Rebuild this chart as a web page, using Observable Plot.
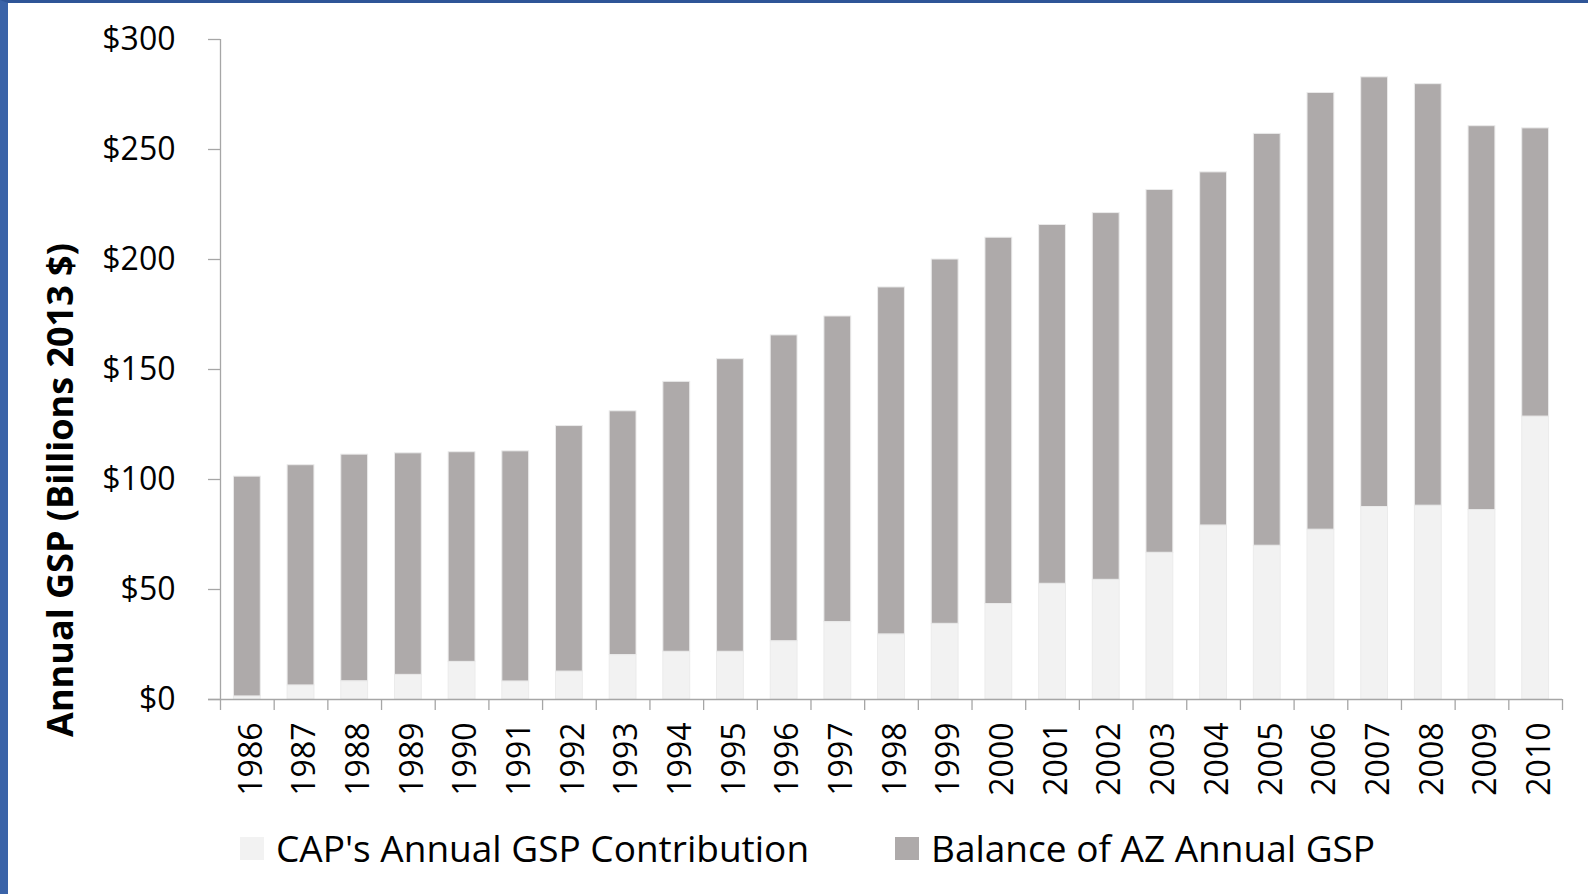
<!DOCTYPE html>
<html>
<head>
<meta charset="utf-8">
<script src="https://cdn.jsdelivr.net/npm/d3@7"></script>
<script src="https://cdn.jsdelivr.net/npm/@observablehq/plot@0.6"></script>
<style>
html, body { margin: 0; padding: 0; background: #fff; }
#frame {
  position: relative; width: 1588px; height: 894px; box-sizing: border-box;
  border-top: 3px solid #2f5597; border-left: 8px solid #3a63a8;
  overflow: hidden; font-family: "Open Sans", sans-serif; color: #000; background: #fff;
}
#chart { position: absolute; left: 0; top: 0; }
#ytitle {
  position: absolute; left: 52px; top: 487px;
  transform: translate(-50%, -50%) rotate(-90deg);
  font-weight: 700; font-size: 36px; white-space: nowrap; line-height: 1;
}
.legend-item {
  position: absolute; top: 824px; height: 42px; display: flex; align-items: center;
  font-size: 37px; white-space: nowrap; line-height: 42px;
}
.swatch { width: 24px; height: 23px; margin-right: 12px; flex: none; }
</style>
</head>
<body>
<div id="frame">
  <div id="chart"></div>
  <div id="ytitle"></div>
  <div id="legend"></div>
</div>
<script>
// ---- data ----
const years = ["1986","1987","1988","1989","1990","1991","1992","1993","1994","1995","1996","1997","1998",
               "1999","2000","2001","2002","2003","2004","2005","2006","2007","2008","2009","2010"];
const capContribution = [1.4, 6.4, 8.3, 11.2, 17.1, 8.2, 12.7, 20.2, 21.7, 21.7, 26.5, 35.2, 29.6,
                         34.4, 43.4, 52.6, 54.4, 66.7, 79.1, 69.9, 77.2, 87.5, 88.1, 86.1, 128.6];
const balanceOfAZ = [99.9, 100.1, 103.0, 100.7, 95.3, 104.6, 111.6, 110.8, 122.7, 133.0, 139.0, 138.9, 157.7,
                     165.6, 166.5, 163.1, 166.7, 164.9, 160.5, 187.2, 198.5, 195.3, 191.6, 174.5, 131.0];
const seriesNames = ["CAP's Annual GSP Contribution", "Balance of AZ Annual GSP"];
const seriesColors = ["#f2f2f2", "#aeaaaa"];
const yTicks = [0, 50, 100, 150, 200, 250, 300];
const yTitle = "Annual GSP (Billions 2013 $)";

// ---- table for the library ----
const rows = [];
years.forEach((yr, i) => {
  rows.push({year: yr, series: seriesNames[0], value: capContribution[i]});
  rows.push({year: yr, series: seriesNames[1], value: balanceOfAZ[i]});
});

const W = 1580, H = 805, mL = 212, mR = 26, mT = 36, mB = 109;
const frameH = H - mT - mB;
const step = (W - mL - mR) / years.length;
const axisGray = "#a6a6a6";

const chart = Plot.plot({
  width: W, height: H,
  marginLeft: mL, marginRight: mR, marginTop: mT, marginBottom: mB,
  style: {fontFamily: '"Open Sans", sans-serif', color: "#000", background: "transparent", overflow: "visible"},
  x: {domain: years, padding: 0, round: false, axis: null},
  y: {domain: [0, 300], axis: null},
  color: {domain: seriesNames, range: seriesColors},
  marks: [
    Plot.barY(rows, {x: "year", y: "value", fill: "series", order: seriesNames,
                     insetLeft: step / 4, insetRight: step / 4, stroke: "#ebebeb", strokeWidth: 1}),
    // y axis line (plus first category boundary tick)
    Plot.ruleX([years[0]], {dx: -step / 2, stroke: axisGray, strokeWidth: 1.3, insetBottom: -11}),
    // category boundary ticks
    Plot.ruleX(years.slice(1), {dx: -step / 2, stroke: axisGray, strokeWidth: 1.3, insetTop: frameH, insetBottom: -11}),
    Plot.ruleX([years[years.length - 1]], {dx: step / 2, stroke: axisGray, strokeWidth: 1.3, insetTop: frameH, insetBottom: -11}),
    // x axis baseline
    Plot.ruleY([0], {stroke: axisGray, strokeWidth: 1.3, insetLeft: -12}),
    Plot.axisY({ticks: yTicks, tickFormat: d => "$" + d, tickSize: 12, tickPadding: 33, fontSize: 32,
                stroke: axisGray, strokeWidth: 1.3, fill: "#000", label: null}),
    Plot.axisX({tickRotate: -90, tickSize: 0, tickPadding: 23, dx: 4, fontSize: 32, fill: "#000", label: null})
  ]
});
document.getElementById("chart").appendChild(chart);
document.getElementById("ytitle").textContent = yTitle;

const legendLefts = [232, 887];
const legend = document.getElementById("legend");
seriesNames.forEach((name, i) => {
  const item = document.createElement("div");
  item.className = "legend-item";
  item.style.left = legendLefts[i] + "px";
  const sw = document.createElement("span");
  sw.className = "swatch";
  sw.style.background = seriesColors[i];
  const tx = document.createElement("span");
  tx.textContent = name;
  item.appendChild(sw); item.appendChild(tx);
  legend.appendChild(item);
});
</script>
</body>
</html>
